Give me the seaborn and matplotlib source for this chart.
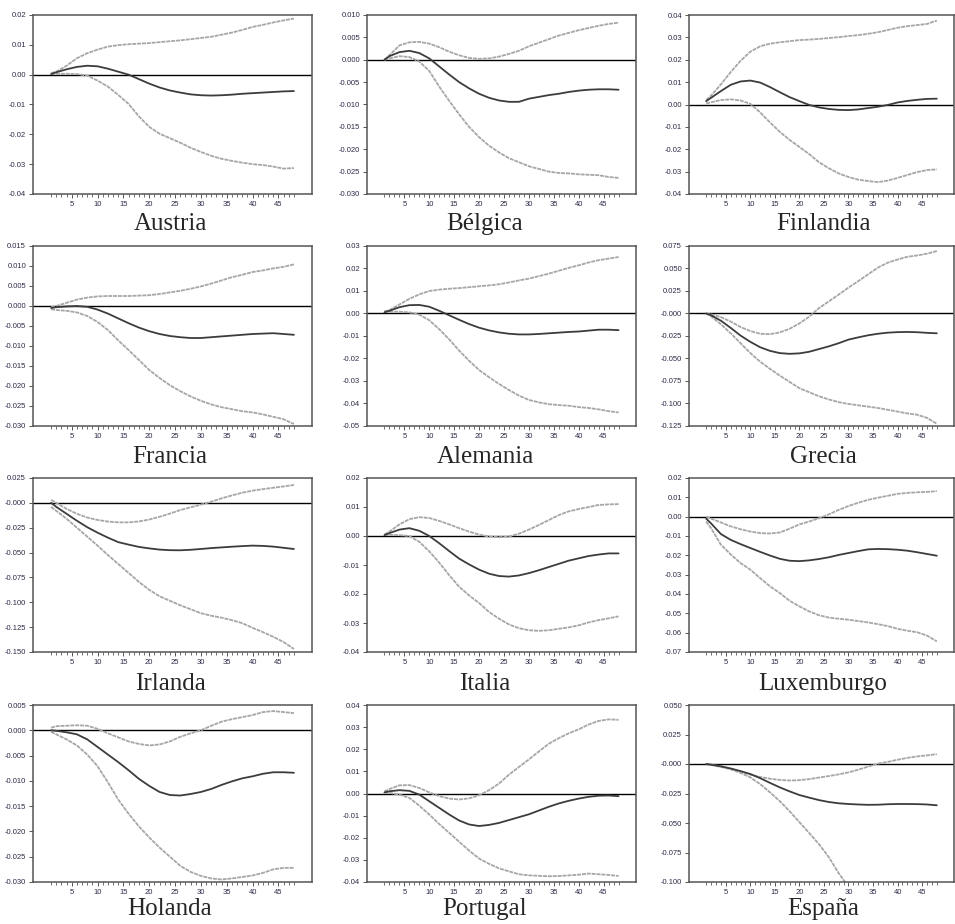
import matplotlib
matplotlib.use('Agg')
import matplotlib.pyplot as plt
import seaborn as sns

# horizons (periods 1..48)
periods = [1, 2, 4, 6, 8, 10, 12, 14, 16, 18, 20, 22, 24, 26, 28, 30, 32, 34, 36, 38, 40, 42, 44, 46, 48]
major_ticks = [5, 10, 15, 20, 25, 30, 35, 40, 45]

austria_up = [0.0005, 0.001, 0.003, 0.0055, 0.0072, 0.0084, 0.0094, 0.0099, 0.0102, 0.0104, 0.0106, 0.0109, 0.0112, 0.0115, 0.0119, 0.0123, 0.0127, 0.0134, 0.0141, 0.015, 0.016, 0.0167, 0.0175, 0.0182, 0.0188]
austria_mid = [0.0002, 0.0008, 0.0018, 0.0026, 0.003, 0.0028, 0.002, 0.001, 0.0, -0.0015, -0.003, -0.0043, -0.0053, -0.006, -0.0066, -0.0069, -0.007, -0.0069, -0.0067, -0.0064, -0.0062, -0.006, -0.0058, -0.0056, -0.0055]
austria_lo = [0.0003, 0.0003, 0.0003, 0.0002, -0.0003, -0.002, -0.004, -0.0068, -0.0098, -0.014, -0.0175, -0.0198, -0.0213, -0.0228, -0.0245, -0.0259, -0.0272, -0.0282, -0.0289, -0.0295, -0.03, -0.0303, -0.0308, -0.0315, -0.0313]
austria_ticks = ['0.02', '0.01', '0.00', '-0.01', '-0.02', '-0.03', '-0.04']

belgica_up = [0.0, 0.001, 0.0032, 0.0039, 0.004, 0.0036, 0.0028, 0.0018, 0.001, 0.0004, 0.0002, 0.0003, 0.0007, 0.0013, 0.002, 0.003, 0.0038, 0.0046, 0.0054, 0.006, 0.0066, 0.0071, 0.0076, 0.008, 0.0083]
belgica_mid = [0.0, 0.0008, 0.0017, 0.002, 0.0015, 0.0003, -0.0015, -0.0033, -0.005, -0.0064, -0.0076, -0.0085, -0.0091, -0.0094, -0.0094, -0.0087, -0.0083, -0.0079, -0.0076, -0.0072, -0.0069, -0.0067, -0.0066, -0.0066, -0.0067]
belgica_lo = [0.0, 0.0003, 0.0008, 0.0006, -0.0004, -0.0025, -0.006, -0.0092, -0.0122, -0.015, -0.0173, -0.0192, -0.0207, -0.022, -0.0229, -0.0238, -0.0244, -0.025, -0.0253, -0.0254, -0.0256, -0.0257, -0.0258, -0.0262, -0.0264]
belgica_ticks = ['0.010', '0.005', '0.000', '-0.005', '-0.010', '-0.015', '-0.020', '-0.025', '-0.030']

finlandia_up = [0.002, 0.004, 0.009, 0.0145, 0.0195, 0.0236, 0.026, 0.0272, 0.0278, 0.0283, 0.0288, 0.029, 0.0293, 0.0297, 0.0301, 0.0306, 0.031, 0.0316, 0.0323, 0.0333, 0.0343, 0.035, 0.0355, 0.036, 0.0375]
finlandia_mid = [0.0015, 0.003, 0.006, 0.0088, 0.0103, 0.0107, 0.0098, 0.0078, 0.0055, 0.0033, 0.0015, -0.0002, -0.0013, -0.002, -0.0024, -0.0025, -0.0022, -0.0016, -0.001, -0.0002, 0.0009, 0.0016, 0.0021, 0.0025, 0.0026]
finlandia_lo = [0.0005, 0.001, 0.002, 0.0023, 0.0018, 0.0003, -0.0035, -0.008, -0.0122, -0.0158, -0.019, -0.0222, -0.0258, -0.0285, -0.0308, -0.0324, -0.0336, -0.0342, -0.0347, -0.034, -0.0328, -0.0315, -0.0302, -0.0293, -0.029]
finlandia_ticks = ['0.04', '0.03', '0.02', '0.01', '0.00', '-0.01', '-0.02', '-0.03', '-0.04']

francia_up = [-0.0003, 0.0, 0.0008, 0.0016, 0.0021, 0.0024, 0.0025, 0.0025, 0.0025, 0.0026, 0.0027, 0.003, 0.0034, 0.0038, 0.0043, 0.0049, 0.0056, 0.0064, 0.0072, 0.0078, 0.0085, 0.0089, 0.0094, 0.0098, 0.0104]
francia_mid = [-0.0005, -0.0003, -0.0001, 0.0, -0.0002, -0.0009, -0.0019, -0.0031, -0.0043, -0.0054, -0.0063, -0.007, -0.0075, -0.0078, -0.008, -0.008, -0.0078, -0.0076, -0.0074, -0.0072, -0.007, -0.0069, -0.0068, -0.007, -0.0072]
francia_lo = [-0.0008, -0.001, -0.0012, -0.0016, -0.0025, -0.004, -0.006, -0.0086, -0.011, -0.0135, -0.016, -0.018, -0.0198, -0.0213, -0.0226, -0.0237, -0.0246, -0.0253, -0.0258, -0.0263, -0.0266, -0.0271, -0.0277, -0.0283, -0.0295]
francia_ticks = ['0.015', '0.010', '0.005', '0.000', '-0.005', '-0.010', '-0.015', '-0.020', '-0.025', '-0.030']

alemania_up = [0.001, 0.0015, 0.004, 0.0065, 0.0085, 0.01, 0.0106, 0.011, 0.0113, 0.0117, 0.0121, 0.0125, 0.013, 0.0138, 0.0147, 0.0155, 0.0166, 0.0177, 0.019, 0.0203, 0.0214, 0.0227, 0.0237, 0.0244, 0.0251]
alemania_mid = [0.0005, 0.0012, 0.0028, 0.0037, 0.0038, 0.003, 0.0012, -0.0008, -0.0028, -0.0047, -0.0063, -0.0075, -0.0084, -0.009, -0.0093, -0.0093, -0.0091, -0.0088, -0.0085, -0.0082, -0.008, -0.0076, -0.0072, -0.0072, -0.0074]
alemania_lo = [0.001, 0.0008, 0.0008, 0.0005, -0.0005, -0.003, -0.007, -0.0115, -0.0165, -0.021, -0.0251, -0.0283, -0.0313, -0.034, -0.0365, -0.0384, -0.0395, -0.0403, -0.0407, -0.041, -0.0416, -0.042, -0.0426, -0.0434, -0.044]
alemania_ticks = ['0.03', '0.02', '0.01', '0.00', '-0.01', '-0.02', '-0.03', '-0.04', '-0.05']

grecia_up = [0.0, -0.001, -0.004, -0.009, -0.015, -0.0195, -0.0225, -0.023, -0.021, -0.017, -0.011, -0.0035, 0.006, 0.0135, 0.021, 0.0288, 0.036, 0.0435, 0.051, 0.0565, 0.06, 0.063, 0.0645, 0.0665, 0.0694]
grecia_mid = [0.0, -0.002, -0.008, -0.016, -0.0245, -0.0315, -0.0375, -0.0415, -0.044, -0.0448, -0.0443, -0.0425, -0.0395, -0.0365, -0.033, -0.029, -0.0265, -0.0242, -0.0225, -0.0213, -0.0207, -0.0205, -0.0208, -0.0215, -0.022]
grecia_lo = [0.0, -0.003, -0.012, -0.022, -0.033, -0.044, -0.0535, -0.0615, -0.069, -0.076, -0.083, -0.0875, -0.092, -0.0955, -0.0985, -0.1005, -0.102, -0.1035, -0.105, -0.107, -0.109, -0.111, -0.1125, -0.116, -0.1225]
grecia_ticks = ['0.075', '0.050', '0.025', '-0.000', '-0.025', '-0.050', '-0.075', '-0.100', '-0.125']

irlanda_up = [0.003, 0.0, -0.006, -0.011, -0.0148, -0.0172, -0.0188, -0.0196, -0.0196, -0.0187, -0.0168, -0.014, -0.0108, -0.0072, -0.0045, -0.0018, 0.0012, 0.0045, 0.0075, 0.0102, 0.0123, 0.0138, 0.0152, 0.0165, 0.018]
irlanda_mid = [0.0, -0.004, -0.011, -0.018, -0.0245, -0.03, -0.035, -0.0395, -0.042, -0.0443, -0.0458, -0.047, -0.0476, -0.0477, -0.0472, -0.0464, -0.0455, -0.0448, -0.0441, -0.0435, -0.043, -0.0433, -0.044, -0.0452, -0.0464]
irlanda_lo = [-0.004, -0.008, -0.016, -0.025, -0.034, -0.043, -0.0525, -0.0615, -0.0705, -0.0795, -0.0875, -0.094, -0.0985, -0.103, -0.107, -0.111, -0.1135, -0.1155, -0.118, -0.121, -0.1257, -0.13, -0.1347, -0.14, -0.147]
irlanda_ticks = ['0.025', '-0.000', '-0.025', '-0.050', '-0.075', '-0.100', '-0.125', '-0.150']

italia_up = [0.0005, 0.0015, 0.004, 0.0058, 0.0065, 0.0062, 0.0052, 0.004, 0.0027, 0.0015, 0.0005, -0.0002, -0.0004, -0.0002, 0.0008, 0.0022, 0.0038, 0.0055, 0.0072, 0.0085, 0.0093, 0.01, 0.0107, 0.0109, 0.011]
italia_mid = [0.0003, 0.001, 0.0022, 0.0027, 0.0018, 0.0, -0.0025, -0.0052, -0.0078, -0.0098, -0.0116, -0.013, -0.0138, -0.014, -0.0136, -0.0128, -0.0118, -0.0107, -0.0096, -0.0085, -0.0077, -0.0069, -0.0064, -0.006, -0.006]
italia_lo = [0.0003, 0.0004, 0.0003, 0.0, -0.002, -0.0053, -0.0092, -0.0135, -0.0175, -0.0205, -0.0231, -0.0262, -0.0285, -0.0305, -0.0318, -0.0325, -0.0327, -0.0325, -0.032, -0.0315, -0.0308, -0.0298, -0.029, -0.0284, -0.0277]
italia_ticks = ['0.02', '0.01', '0.00', '-0.01', '-0.02', '-0.03', '-0.04']

luxemburgo_up = [0.0, -0.001, -0.003, -0.005, -0.0065, -0.0077, -0.0085, -0.0087, -0.0082, -0.0062, -0.004, -0.0025, -0.0008, 0.0012, 0.0035, 0.0055, 0.0072, 0.0087, 0.0098, 0.0108, 0.0118, 0.0123, 0.0126, 0.0128, 0.0132]
luxemburgo_mid = [-0.001, -0.0035, -0.009, -0.012, -0.0142, -0.0162, -0.0182, -0.0201, -0.0218, -0.0228, -0.023, -0.0226, -0.0219, -0.021, -0.0198, -0.0188, -0.0178, -0.0169, -0.0167, -0.0168, -0.0171, -0.0176, -0.0184, -0.0193, -0.0202]
luxemburgo_lo = [-0.0025, -0.006, -0.0145, -0.0195, -0.024, -0.0274, -0.0318, -0.036, -0.0395, -0.0435, -0.0464, -0.049, -0.051, -0.0522, -0.0528, -0.0533, -0.054, -0.0547, -0.0556, -0.0566, -0.058, -0.059, -0.0598, -0.0615, -0.0645]
luxemburgo_ticks = ['0.02', '0.01', '0.00', '-0.01', '-0.02', '-0.03', '-0.04', '-0.05', '-0.06', '-0.07']

holanda_up = [0.0005, 0.0008, 0.0009, 0.001, 0.0009, 0.0003, -0.0006, -0.0014, -0.0022, -0.0027, -0.003, -0.0028, -0.0022, -0.0013, -0.0006, 0.0, 0.0009, 0.0017, 0.0022, 0.0026, 0.003, 0.0036, 0.0038, 0.0036, 0.0034]
holanda_mid = [0.0, -0.0001, -0.0004, -0.0008, -0.0018, -0.0033, -0.0048, -0.0063, -0.0079, -0.0096, -0.011, -0.0122, -0.0128, -0.0129, -0.0126, -0.0122, -0.0116, -0.0108, -0.0101, -0.0095, -0.0091, -0.0086, -0.0083, -0.0083, -0.0084]
holanda_lo = [-0.0003, -0.0008, -0.0018, -0.003, -0.0048, -0.0071, -0.0103, -0.0137, -0.0165, -0.019, -0.0212, -0.0232, -0.025, -0.0268, -0.028, -0.0288, -0.0293, -0.0295, -0.0293, -0.029, -0.0287, -0.0282, -0.0275, -0.0272, -0.0272]
holanda_ticks = ['0.005', '0.000', '-0.005', '-0.010', '-0.015', '-0.020', '-0.025', '-0.030']

portugal_up = [0.001, 0.002, 0.0037, 0.0038, 0.0025, 0.0005, -0.0012, -0.0023, -0.0027, -0.0022, -0.0008, 0.0015, 0.0045, 0.0085, 0.012, 0.0154, 0.019, 0.0225, 0.025, 0.0272, 0.029, 0.0312, 0.0328, 0.0335, 0.0333]
portugal_mid = [0.0005, 0.001, 0.0015, 0.0012, -0.0005, -0.0035, -0.0065, -0.0095, -0.0122, -0.014, -0.0147, -0.0142, -0.0133, -0.012, -0.0107, -0.0094, -0.0077, -0.006, -0.0045, -0.0033, -0.0023, -0.0015, -0.001, -0.0009, -0.0012]
portugal_lo = [0.0005, 0.0003, -0.0005, -0.002, -0.0055, -0.0095, -0.0138, -0.0178, -0.0218, -0.0258, -0.0294, -0.0318, -0.0338, -0.0352, -0.0365, -0.037, -0.0372, -0.0374, -0.0373, -0.037, -0.0367, -0.0362, -0.0365, -0.0368, -0.0373]
portugal_ticks = ['0.04', '0.03', '0.02', '0.01', '0.00', '-0.01', '-0.02', '-0.03', '-0.04']

espana_up = [0.0, -0.0005, -0.002, -0.004, -0.0065, -0.009, -0.011, -0.0125, -0.0135, -0.014, -0.0137, -0.0128, -0.0115, -0.0102, -0.0088, -0.0071, -0.0048, -0.0022, 0.0003, 0.0018, 0.0036, 0.0052, 0.0064, 0.0073, 0.0083]
espana_mid = [0.0, -0.0006, -0.002, -0.0038, -0.006, -0.0085, -0.012, -0.016, -0.0198, -0.0232, -0.0263, -0.0285, -0.0306, -0.0322, -0.0333, -0.0339, -0.0343, -0.0346, -0.0345, -0.0341, -0.0339, -0.0339, -0.034, -0.0343, -0.035]
espana_lo = [0.0, -0.0008, -0.0025, -0.0045, -0.0075, -0.0114, -0.017, -0.024, -0.0315, -0.04, -0.0493, -0.0585, -0.068, -0.079, -0.0925, -0.104, -0.115, -0.125, -0.134, -0.142, -0.149, -0.155, -0.16, -0.165, -0.17]
espana_ticks = ['0.050', '0.025', '-0.000', '-0.025', '-0.050', '-0.075', '-0.100']

countries = ['Austria', 'Bélgica', 'Finlandia',
             'Francia', 'Alemania', 'Grecia',
             'Irlanda', 'Italia', 'Luxemburgo',
             'Holanda', 'Portugal', 'España']
panels = [
    (austria_up, austria_mid, austria_lo, austria_ticks),
    (belgica_up, belgica_mid, belgica_lo, belgica_ticks),
    (finlandia_up, finlandia_mid, finlandia_lo, finlandia_ticks),
    (francia_up, francia_mid, francia_lo, francia_ticks),
    (alemania_up, alemania_mid, alemania_lo, alemania_ticks),
    (grecia_up, grecia_mid, grecia_lo, grecia_ticks),
    (irlanda_up, irlanda_mid, irlanda_lo, irlanda_ticks),
    (italia_up, italia_mid, italia_lo, italia_ticks),
    (luxemburgo_up, luxemburgo_mid, luxemburgo_lo, luxemburgo_ticks),
    (holanda_up, holanda_mid, holanda_lo, holanda_ticks),
    (portugal_up, portugal_mid, portugal_lo, portugal_ticks),
    (espana_up, espana_mid, espana_lo, espana_ticks),
]

sns.set_style('white')
plt.rcParams['font.family'] = ['Liberation Sans', 'DejaVu Sans']

W, H = 955, 924
fig = plt.figure(figsize=(W / 100, H / 100), dpi=100)

# panel frames in pixels
cols = [(33, 312), (367, 636), (689, 954)]
rows = [(15, 194), (246, 426), (478, 652), (705, 882)]
title_x = [170, 485, 823]
title_y = [224, 457, 684, 909]

band_color = '#a6a6a6'
mid_color = '#3c3c3c'
tick_color = '#2b2b48'
band_style = (0, (2.2, 0.5))

for i, (name, (up, mid, lo, ticks)) in enumerate(zip(countries, panels)):
    r, c = divmod(i, 3)
    x0, x1 = cols[c]
    y0, y1 = rows[r]
    ax = fig.add_axes([x0 / W, 1 - y1 / H, (x1 - x0) / W, (y1 - y0) / H])

    ax.axhline(0, color='black', lw=1.0, zorder=1)
    sns.lineplot(x=periods, y=up, ax=ax, color=band_color, lw=1.3, linestyle=band_style)
    sns.lineplot(x=periods, y=lo, ax=ax, color=band_color, lw=1.3, linestyle=band_style)
    sns.lineplot(x=periods, y=mid, ax=ax, color=mid_color, lw=1.3)

    yvals = [float(t) for t in ticks]
    ax.set_ylim(min(yvals), max(yvals))
    ax.set_yticks(yvals)
    ax.set_yticklabels(ticks)
    ax.set_xlim(-2.5, 51.5)
    ax.set_xticks(major_ticks)
    ax.set_xticklabels([str(t) for t in major_ticks])
    ax.set_xticks(range(1, 49), minor=True)
    ax.set_xlabel('')
    ax.set_ylabel('')

    for s in ax.spines.values():
        s.set_color('#555555')
        s.set_linewidth(1.1)
    ax.tick_params(axis='both', which='major', direction='out', length=3, width=0.7,
                   color='#555555', labelsize=5.5, labelcolor=tick_color, pad=2)
    ax.tick_params(axis='x', which='minor', direction='out', length=2, width=0.6,
                   color='#555555', bottom=True)
    ax.tick_params(left=True, bottom=True)

    fig.text(title_x[c] / W, 1 - title_y[r] / H, name, ha='center', va='center',
             fontsize=18, family=['Liberation Serif', 'DejaVu Serif'])

fig.savefig('out.png', dpi=100)
